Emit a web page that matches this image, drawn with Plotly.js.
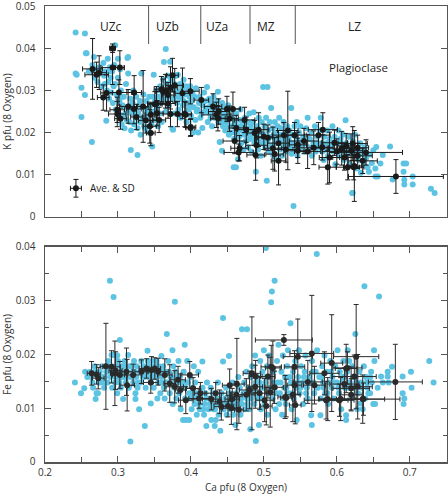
<!DOCTYPE html>
<html><head><meta charset="utf-8">
<script src="https://cdn.plot.ly/plotly-3.0.1.min.js"></script>
<style>html,body{margin:0;padding:0;background:#fff}#chart{width:448px;height:499px}</style>
</head><body><div id="chart"></div>
<script>
// ---- top panel: K vs Ca, individual analyses [Ca, K]
const kAnalyses = [
[0.242,0.0437],[0.2547,0.0435],[0.256,0.0388],[0.257,0.0388],[0.267,0.0379],[0.2434,0.0337],[0.242,0.034],[0.25,0.0306],[0.2547,0.0289],[0.25,0.0237],[0.2643,0.0178],[0.26,0.0345],[0.265,0.036],[0.268,0.033],[0.27,0.035],[0.272,0.032],[0.275,0.0355],[0.276,0.034],[0.278,0.031],[0.28,0.0365],[0.281,0.0335],[0.283,0.0345],[0.284,0.0228],[0.285,0.03],[0.286,0.0375],[0.287,0.032],[0.288,0.028],[0.289,0.0355],[0.29,0.033],[0.291,0.0295],[0.292,0.0345],[0.293,0.027],[0.294,0.031],[0.295,0.036],[0.2962,0.0407],[0.297,0.0255],[0.298,0.029],[0.3003,0.0281],[0.3,0.033],[0.301,0.0245],[0.302,0.0275],[0.3,0.0375],
[0.303,0.035],[0.304,0.03],[0.305,0.022],[0.306,0.0265],[0.307,0.024],[0.308,0.0285],[0.309,0.021],[0.31,0.026],[0.311,0.0315],[0.312,0.023],[0.313,0.0377],[0.314,0.034],[0.314,0.0379],[0.315,0.0255],[0.316,0.0225],[0.317,0.028],[0.318,0.0205],[0.3176,0.0159],[0.319,0.0245],[0.32,0.027],[0.321,0.03],[0.322,0.022],[0.323,0.0255],[0.324,0.0235],[0.325,0.0285],[0.3268,0.0147],[0.327,0.021],[0.328,0.0245],[0.329,0.0265],[0.33,0.0225],[0.331,0.0195],[0.332,0.034],[0.333,0.026],[0.334,0.0235],[0.335,0.029],[0.336,0.0215],[0.337,0.0209],[0.338,0.025],[0.339,0.0275],[0.34,0.023],[0.341,0.0255],[0.342,0.02],[0.343,0.0285],[0.344,0.0245],[0.345,0.0265],[0.347,0.0167],[0.349,0.0337],[0.346,0.022],
[0.348,0.0285],[0.35,0.025],[0.351,0.0275],[0.352,0.023],[0.353,0.03],[0.354,0.0265],[0.355,0.0215],[0.356,0.0285],[0.357,0.0245],[0.358,0.031],[0.359,0.027],[0.36,0.0225],[0.361,0.0295],[0.362,0.0325],[0.363,0.0367],[0.364,0.028],[0.3655,0.0398],[0.366,0.025],[0.367,0.0315],[0.368,0.0335],[0.369,0.029],[0.37,0.0265],[0.3715,0.0368],[0.372,0.0305],[0.373,0.0325],[0.3747,0.0209],[0.3755,0.0207],[0.376,0.028],[0.377,0.0315],[0.378,0.0245],[0.379,0.03],[0.38,0.0335],[0.381,0.027],[0.382,0.0337],[0.383,0.0255],[0.384,0.0295],[0.385,0.0315],[0.386,0.0235],[0.387,0.028],[0.388,0.0305],[0.389,0.0265],[0.39,0.0325],[0.391,0.0245],[0.392,0.029],[0.393,0.031],[0.394,0.0225],[0.395,0.027],[0.396,0.03],[0.397,0.0255],[0.398,0.0285],[0.399,0.031],[0.4,0.024],
[0.401,0.0275],[0.402,0.0295],[0.403,0.02],[0.404,0.026],[0.405,0.0285],[0.406,0.023],[0.407,0.0305],[0.408,0.025],[0.41,0.02],[0.411,0.027],[0.412,0.0285],[0.413,0.0235],[0.4157,0.0211],[0.416,0.0265],[0.418,0.0295],[0.419,0.025],[0.42,0.0275],[0.422,0.0308],[0.423,0.0225],[0.424,0.026],[0.425,0.028],[0.426,0.0245],[0.428,0.027],[0.429,0.0215],[0.43,0.0255],[0.431,0.0285],[0.432,0.0235],[0.434,0.0265],[0.435,0.0245],[0.436,0.0275],[0.437,0.0297],[0.438,0.0225],[0.4394,0.0178],[0.44,0.0255],[0.441,0.0235],[0.4426,0.0157],[0.443,0.027],[0.444,0.0215],[0.445,0.0245],[0.446,0.026],[0.447,0.0205],[0.448,0.0235],[0.449,0.025],
[0.45,0.0225],[0.451,0.0265],[0.452,0.0195],[0.453,0.024],[0.454,0.0215],[0.455,0.0255],[0.456,0.02],[0.457,0.0235],[0.4586,0.0118],[0.459,0.0185],[0.46,0.0225],[0.4617,0.0118],[0.462,0.0245],[0.463,0.0205],[0.4645,0.0137],[0.465,0.0215],[0.466,0.019],[0.467,0.023],[0.468,0.0255],[0.469,0.0175],[0.47,0.0205],[0.471,0.022],[0.472,0.016],[0.473,0.0195],[0.474,0.0235],[0.475,0.018],[0.476,0.021],[0.477,0.0225],[0.478,0.0165],[0.479,0.0195],[0.48,0.0245],[0.481,0.0185],[0.482,0.0215],[0.483,0.0155],[0.484,0.02],[0.485,0.0225],[0.486,0.0248],[0.487,0.0175],[0.488,0.0205],[0.489,0.0107],[0.49,0.019],[0.491,0.0215],[0.492,0.016],[0.493,0.0235],[0.494,0.0185],[0.495,0.02],[0.496,0.0145],[0.497,0.0225],[0.498,0.0175],[0.499,0.0308],[0.5,0.0195],
[0.501,0.0215],[0.502,0.0165],[0.503,0.0235],[0.504,0.0086],[0.505,0.0308],[0.505,0.018],[0.506,0.0205],[0.507,0.0155],[0.508,0.0225],[0.509,0.019],[0.51,0.0258],[0.511,0.017],[0.512,0.021],[0.513,0.0145],[0.514,0.0195],[0.515,0.0225],[0.516,0.0175],[0.517,0.02],[0.518,0.0135],[0.519,0.0215],[0.52,0.0185],[0.521,0.0235],[0.522,0.016],[0.523,0.0195],[0.524,0.021],[0.525,0.0145],[0.526,0.018],[0.527,0.0225],[0.528,0.017],[0.529,0.02],[0.53,0.0155],[0.531,0.019],[0.532,0.0215],[0.533,0.0165],[0.534,0.0185],[0.535,0.0205],[0.5375,0.0258],[0.538,0.015],[0.539,0.0195],[0.54,0.0175],[0.5406,0.0026],[0.542,0.0215],[0.543,0.016],[0.544,0.019],[0.545,0.0225],[0.546,0.0145],[0.547,0.018],[0.548,0.02],[0.549,0.0165],[0.55,0.0215],
[0.552,0.0175],[0.554,0.019],[0.556,0.0155],[0.558,0.021],[0.56,0.0235],[0.561,0.0165],[0.563,0.0185],[0.565,0.02],[0.566,0.0145],[0.568,0.0175],[0.57,0.0215],[0.571,0.0155],[0.573,0.019],[0.575,0.0165],[0.577,0.0205],[0.578,0.0235],[0.58,0.0175],[0.582,0.0135],[0.583,0.019],[0.585,0.016],[0.587,0.0205],[0.588,0.0145],[0.59,0.0185],[0.592,0.017],[0.594,0.0215],[0.595,0.0155],[0.597,0.019],[0.598,0.0125],[0.6,0.0175],[0.602,0.0205],[0.603,0.0145],[0.605,0.0185],[0.607,0.016],[0.608,0.0195],[0.61,0.0135],[0.612,0.0229],[0.613,0.0175],[0.615,0.015],[0.616,0.019],[0.618,0.0125],[0.62,0.0165],[0.621,0.0057],[0.622,0.018],[0.624,0.0145],[0.625,0.0195],[0.627,0.0115],[0.628,0.016],[0.63,0.0135],[0.632,0.0175],[0.633,0.0105],[0.635,0.015],[0.637,0.0125],[0.638,0.0165],[0.64,0.0138],[0.642,0.0118],[0.644,0.0107],[0.645,0.0148],[0.648,0.0128],[0.65,0.0158],
[0.653,0.0096],[0.654,0.0166],[0.656,0.0096],[0.6528,0.0115],[0.6597,0.0127],[0.663,0.0147],[0.673,0.0167],[0.6765,0.0089],[0.6915,0.0127],[0.695,0.0127],[0.6915,0.0107],[0.704,0.0096],[0.6925,0.0088],[0.6925,0.0077],[0.704,0.0077],[0.729,0.0067],[0.734,0.0057],[0.6218,0.0057],
[0.282,0.0315],[0.287,0.0345],[0.296,0.0315],[0.305,0.0285],[0.31,0.0245],[0.318,0.0265],[0.326,0.025],[0.33,0.0275],[0.338,0.0235],[0.353,0.0255],[0.36,0.0275],[0.366,0.0295],[0.371,0.0285],[0.375,0.0305],[0.382,0.0285],[0.39,0.0275],[0.398,0.0265],[0.409,0.0255],[0.415,0.0245],[0.421,0.0255],[0.427,0.0235],[0.433,0.0255],[0.44,0.0225],[0.447,0.0225],[0.452,0.0215],[0.458,0.0215],[0.464,0.0195],[0.47,0.0215],[0.476,0.0195],[0.482,0.0195],[0.488,0.0185],[0.494,0.0175],[0.5,0.0175],[0.506,0.0185],[0.511,0.0165],[0.516,0.0185],[0.522,0.0175],[0.528,0.0185],[0.533,0.0175],[0.537,0.0165],[0.543,0.0175],[0.55,0.0165],[0.556,0.0175],[0.562,0.0185],[0.569,0.0165],[0.574,0.0175],[0.58,0.0155],[0.586,0.0175],[0.591,0.0165],[0.596,0.0175],[0.601,0.0155],[0.606,0.0175],[0.611,0.0155],[0.617,0.0165],[0.623,0.0155],[0.629,0.0145],[0.634,0.0155],[0.639,0.0145]
];
// top panel averages: [Ca, K, Ca SD, K SD]
const kAverages = [
[0.2652,0.0351,0.0137,0.0072],[0.2707,0.0337,0.016,0.003],[0.2743,0.0342,0.01,0.004],[0.2926,0.04,0.004,0.001],[0.2926,0.0354,0.016,0.004],[0.3026,0.0354,0.006,0.004],[0.2844,0.0294,0.008,0.0043],[0.2798,0.0283,0.008,0.003],[0.3013,0.0295,0.018,0.003],[0.3222,0.0295,0.01,0.004],[0.299,0.0254,0.01,0.003],[0.299,0.0244,0.012,0.003],[0.3035,0.0233,0.008,0.0025],[0.314,0.0262,0.012,0.004],[0.3218,0.0256,0.01,0.0035],[0.3254,0.0237,0.008,0.003],[0.3345,0.0262,0.008,0.0085],[0.3382,0.0229,0.01,0.003],[0.345,0.0199,0.006,0.003],[0.3436,0.0215,0.009,0.004],[0.345,0.0242,0.008,0.003],[0.3528,0.0269,0.012,0.004],[0.3564,0.023,0.009,0.003],[0.3596,0.0303,0.01,0.003],[0.365,0.0298,0.012,0.004],[0.3687,0.0289,0.008,0.003],[0.372,0.0306,0.01,0.005],[0.3778,0.0312,0.012,0.004],[0.3747,0.0336,0.008,0.004],[0.3619,0.0297,0.01,0.003],[0.372,0.0244,0.01,0.003],[0.3815,0.0244,0.008,0.003],[0.3884,0.0293,0.01,0.006],[0.3915,0.0244,0.009,0.003],[0.3993,0.0298,0.012,0.003],[0.3997,0.0213,0.007,0.002],[0.4143,0.0277,0.01,0.003],[0.4303,0.0262,0.012,0.003],[0.4349,0.0242,0.02,0.003],[0.437,0.0234,0.01,0.003],[0.4381,0.025,0.014,0.003],[0.4494,0.0256,0.018,0.003],[0.4576,0.0256,0.01,0.004],[0.453,0.0233,0.012,0.003],[0.4622,0.0211,0.01,0.003],[0.4736,0.023,0.014,0.003],[0.4759,0.0207,0.012,0.003],[0.4873,0.0199,0.01,0.003],[0.46,0.018,0.016,0.003],[0.4654,0.0153,0.02,0.002],[0.4667,0.0163,0.012,0.003],[0.4887,0.0147,0.012,0.006],[0.3505,0.0267,0.01,0.003],[0.3537,0.0246,0.008,0.003],[0.3687,0.0269,0.01,0.0035],[0.3929,0.0242,0.008,0.003],[0.3993,0.0211,0.006,0.002],[0.4928,0.0207,0.014,0.004],[0.5055,0.0188,0.014,0.003],[0.5124,0.0163,0.012,0.005],[0.5147,0.0149,0.012,0.004],[0.5201,0.0133,0.01,0.0057],[0.5274,0.0194,0.016,0.003],[0.5328,0.0205,0.014,0.0093],[0.542,0.0194,0.014,0.003],[0.5465,0.0157,0.018,0.003],[0.5465,0.0171,0.012,0.003],[0.5684,0.0164,0.02,0.004],[0.5748,0.0194,0.016,0.003],[0.5808,0.0207,0.02,0.004],[0.5899,0.0141,0.014,0.006],[0.5876,0.0118,0.012,0.004],[0.5967,0.0176,0.018,0.003],[0.6067,0.0163,0.02,0.004],[0.6104,0.0141,0.016,0.003],[0.6218,0.0174,0.02,0.004],[0.6231,0.0118,0.014,0.003],[0.6128,0.0168,0.012,0.003],[0.6196,0.0157,0.016,0.004],[0.6286,0.0164,0.015,0.003],[0.6286,0.0145,0.02,0.003],[0.6355,0.0133,0.02,0.003],[0.624,0.0121,0.01,0.0084],[0.615,0.0118,0.016,0.003],[0.64,0.0153,0.05,0.003],[0.681,0.0096,0.065,0.004],
[0.5,0.019,0.012,0.003],[0.52,0.0175,0.015,0.003],[0.555,0.018,0.02,0.003],[0.56,0.0155,0.018,0.004],[0.58,0.0165,0.015,0.003],[0.6,0.0155,0.02,0.003],[0.53,0.016,0.018,0.003],[0.49,0.017,0.015,0.003]
];
// ---- bottom panel: Fe vs Ca, individual analyses [Ca, Fe]
const feAnalyses = [
[0.241,0.0148],[0.2493,0.0128],[0.2538,0.0137],[0.255,0.0168],[0.258,0.0158],[0.262,0.0168],[0.265,0.0148],[0.2694,0.0117],[0.2707,0.0128],[0.2725,0.0128],[0.268,0.0178],[0.272,0.0158],[0.275,0.0168],[0.277,0.0148],[0.279,0.0178],[0.281,0.0138],[0.282,0.0158],[0.284,0.0168],[0.286,0.0148],[0.287,0.0188],[0.289,0.0337],[0.29,0.0158],[0.2912,0.0199],[0.292,0.0138],[0.2935,0.0199],[0.294,0.0307],[0.295,0.0168],[0.296,0.0148],[0.298,0.0178],[0.299,0.0128],[0.3,0.0188],[0.3026,0.0227],[0.301,0.0158],
[0.303,0.0168],[0.304,0.0138],[0.306,0.0178],[0.3071,0.0117],[0.308,0.0158],[0.309,0.0188],[0.311,0.0148],[0.312,0.0168],[0.314,0.0199],[0.315,0.0138],[0.316,0.0178],[0.317,0.0038],[0.318,0.0158],[0.32,0.0168],[0.321,0.0148],[0.322,0.0188],[0.324,0.0128],[0.324,0.0117],[0.325,0.0158],[0.326,0.0178],[0.327,0.0138],[0.329,0.0098],[0.33,0.0168],[0.331,0.0148],[0.332,0.0188],[0.334,0.0158],[0.335,0.0178],[0.3368,0.0067],[0.338,0.0138],[0.339,0.0168],[0.3405,0.0207],[0.342,0.0158],[0.343,0.0178],[0.345,0.0109],[0.345,0.0148],[0.346,0.0188],[0.348,0.0168],[0.349,0.0138],[0.35,0.0178],[0.352,0.0158],[0.353,0.0188],[0.354,0.0118],[0.355,0.0148],[0.357,0.0168],[0.358,0.0128],[0.3596,0.0197],[0.36,0.0158],
[0.362,0.0178],[0.363,0.0138],[0.364,0.0118],[0.366,0.0168],[0.367,0.0238],[0.368,0.0148],[0.369,0.0188],[0.371,0.0128],[0.372,0.0158],[0.3747,0.0208],[0.375,0.0108],[0.376,0.0178],[0.377,0.0138],[0.378,0.0298],[0.379,0.0168],[0.38,0.0118],[0.381,0.0148],[0.383,0.0188],[0.384,0.0128],[0.385,0.0158],[0.386,0.0098],[0.388,0.0138],[0.3892,0.0078],[0.39,0.0168],[0.3915,0.0218],[0.392,0.0118],[0.3929,0.0078],[0.394,0.0148],[0.395,0.0188],[0.3976,0.0078],[0.398,0.0128],[0.399,0.0158],[0.401,0.0098],[0.402,0.0138],[0.404,0.0178],[0.405,0.0108],[0.406,0.0148],[0.408,0.0088],[0.409,0.0128],[0.41,0.0168],[0.412,0.0098],[0.413,0.0118],[0.4157,0.0187],[0.416,0.0138],[0.418,0.0088],[0.419,0.0108],[0.42,0.0128],
[0.4212,0.0067],[0.422,0.0148],[0.424,0.0098],[0.425,0.0118],[0.427,0.0138],[0.428,0.0078],[0.429,0.0108],[0.43,0.0128],[0.4326,0.0067],[0.433,0.0098],[0.434,0.0078],[0.435,0.0118],[0.437,0.0148],[0.438,0.0088],[0.4403,0.0058],[0.441,0.0108],[0.442,0.0128],[0.444,0.0187],[0.444,0.0268],[0.445,0.0098],[0.447,0.0118],[0.448,0.0138],[0.449,0.0088],[0.45,0.0108],[0.4522,0.0197],[0.453,0.0128],[0.454,0.0098],[0.456,0.0118],[0.457,0.0148],[0.458,0.0088],[0.459,0.0108],[0.4609,0.0069],[0.462,0.0128],[0.463,0.0098],[0.465,0.0158],[0.466,0.0118],[0.467,0.0138],[0.468,0.0088],[0.47,0.0247],[0.47,0.0108],[0.472,0.0128],[0.473,0.0148],[0.474,0.0098],[0.4768,0.0247],[0.476,0.0168],[0.477,0.0118],[0.479,0.0138],[0.48,0.0098],
[0.4814,0.0061],[0.482,0.0158],[0.483,0.0118],[0.484,0.0178],[0.486,0.0138],[0.487,0.0108],[0.488,0.0198],[0.489,0.0039],[0.49,0.0128],[0.491,0.0158],[0.4932,0.0069],[0.494,0.0148],[0.495,0.0188],[0.496,0.0098],[0.497,0.0118],[0.498,0.0168],[0.499,0.0138],[0.5,0.0208],[0.5027,0.0398],[0.501,0.0108],[0.502,0.0148],[0.504,0.0178],[0.505,0.0088],[0.506,0.0128],[0.507,0.0198],[0.508,0.0158],[0.51,0.0297],[0.511,0.0317],[0.512,0.0118],[0.513,0.0168],[0.5147,0.0337],[0.515,0.0138],[0.516,0.0098],[0.518,0.0188],[0.519,0.0148],[0.52,0.0218],[0.521,0.0108],[0.522,0.0128],[0.524,0.0168],[0.525,0.0088],[0.526,0.0198],[0.528,0.0138],[0.529,0.0158],[0.53,0.0108],[0.532,0.0178],[0.533,0.0208],[0.534,0.0128],[0.5365,0.0258],[0.537,0.0148],[0.538,0.0098],[0.54,0.0168],[0.541,0.0118],[0.543,0.0188],[0.544,0.0138],[0.545,0.0078],[0.547,0.0158],[0.548,0.0208],[0.549,0.0128],
[0.551,0.0178],[0.553,0.0148],[0.554,0.0108],[0.556,0.0168],[0.557,0.0198],[0.559,0.0138],[0.56,0.0118],[0.562,0.0158],[0.5648,0.0087],[0.5657,0.0069],[0.566,0.0188],[0.568,0.0148],[0.569,0.0128],[0.5725,0.0387],[0.571,0.0168],[0.573,0.0208],[0.574,0.0138],[0.5775,0.0087],[0.576,0.0158],[0.578,0.0118],[0.58,0.0178],[0.581,0.0148],[0.583,0.0198],[0.584,0.0128],[0.586,0.0168],[0.588,0.0108],[0.589,0.0148],[0.591,0.0188],[0.593,0.0138],[0.594,0.0158],[0.596,0.0118],[0.598,0.0178],[0.6,0.0148],[0.601,0.0208],[0.603,0.0128],[0.604,0.0168],[0.606,0.0098],[0.608,0.0158],[0.609,0.0188],[0.611,0.0138],[0.6127,0.0087],[0.6127,0.0078],[0.614,0.0168],[0.615,0.0208],[0.617,0.0188],[0.618,0.0148],[0.62,0.0118],[0.621,0.0178],[0.623,0.0138],[0.6254,0.0238],[0.626,0.0158],[0.628,0.0098],[0.629,0.0128],[0.631,0.0168],[0.6323,0.0109],[0.633,0.0148],[0.6355,0.0098],[0.6378,0.0327],[0.637,0.0178],[0.639,0.0118],[0.64,0.0158],[0.642,0.0138],[0.6433,0.0128],[0.6456,0.0128],[0.647,0.0168],[0.648,0.0148],[0.65,0.0108],
[0.651,0.0208],[0.6515,0.0188],[0.6524,0.0108],[0.656,0.0138],[0.6579,0.0308],[0.6606,0.0159],[0.663,0.0148],[0.6697,0.0168],[0.6697,0.0159],[0.671,0.0148],[0.6756,0.0177],[0.6902,0.0159],[0.6902,0.0128],[0.6925,0.0118],[0.6915,0.0108],[0.7016,0.0168],[0.7025,0.0138],[0.7267,0.0188],[0.7326,0.0148],
[0.263,0.0158],[0.266,0.0138],[0.269,0.0168],[0.274,0.0148],[0.278,0.0158],[0.283,0.0148],[0.285,0.0178],[0.288,0.0168],[0.291,0.0178],[0.297,0.0158],[0.299,0.0198],[0.302,0.0148],[0.305,0.0158],[0.307,0.0168],[0.31,0.0178],[0.313,0.0158],[0.319,0.0178],[0.323,0.0168],[0.328,0.0148],[0.333,0.0168],[0.336,0.0158],[0.341,0.0188],[0.344,0.0168],[0.347,0.0158],[0.351,0.0168],[0.356,0.0178],[0.359,0.0148],[0.361,0.0168],[0.365,0.0148],[0.37,0.0168],[0.374,0.0158],[0.378,0.0148],[0.382,0.0158],[0.387,0.0148],[0.391,0.0138],[0.396,0.0148],[0.4,0.0118],[0.403,0.0128],[0.407,0.0118],[0.411,0.0108],[0.414,0.0128],[0.417,0.0098],[0.421,0.0118],[0.426,0.0108],[0.431,0.0098],[0.436,0.0108],[0.439,0.0118],[0.443,0.0098],[0.446,0.0108],[0.451,0.0118],[0.455,0.0108],[0.46,0.0118],[0.464,0.0108],[0.469,0.0118],[0.475,0.0128],[0.478,0.0108],[0.485,0.0128],[0.489,0.0148],[0.492,0.0118],[0.497,0.0138],[0.503,0.0158],[0.509,0.0138],[0.514,0.0148],[0.517,0.0128],[0.523,0.0148],[0.527,0.0118],[0.531,0.0138],[0.535,0.0158],[0.539,0.0128],[0.546,0.0148],[0.55,0.0138],[0.555,0.0158],[0.558,0.0128],[0.563,0.0148],[0.567,0.0168],[0.572,0.0138],[0.579,0.0158],[0.582,0.0138],[0.587,0.0128],[0.592,0.0168],[0.597,0.0148],[0.602,0.0138],[0.607,0.0148],[0.61,0.0158],[0.616,0.0138],[0.622,0.0158],[0.627,0.0148],[0.634,0.0138],[0.641,0.0148],[0.646,0.0158]
];
// bottom panel averages: [Ca, Fe, Ca SD, Fe SD]
const feAverages = [
[0.2639,0.0165,0.006,0.0022],[0.2707,0.0163,0.005,0.0018],[0.273,0.0156,0.008,0.002],[0.2835,0.0178,0.008,0.008],[0.2912,0.0177,0.012,0.003],[0.2958,0.0165,0.006,0.006],[0.2967,0.017,0.009,0.0035],[0.3026,0.0162,0.01,0.0025],[0.3117,0.0168,0.008,0.0044],[0.3126,0.0143,0.01,0.0048],[0.3208,0.0162,0.012,0.002],[0.3322,0.0168,0.009,0.0022],[0.339,0.0174,0.01,0.0018],[0.346,0.0171,0.012,0.0025],[0.345,0.0148,0.01,0.002],[0.3505,0.0174,0.008,0.002],[0.355,0.0168,0.014,0.0025],[0.3642,0.0162,0.01,0.003],[0.371,0.0146,0.008,0.0035],[0.3778,0.014,0.012,0.003],[0.3824,0.0153,0.01,0.0025],[0.3856,0.0134,0.007,0.003],[0.3984,0.0162,0.012,0.0025],[0.393,0.0115,0.01,0.0025],[0.403,0.0137,0.009,0.002],[0.413,0.0128,0.008,0.002],[0.4111,0.0118,0.014,0.0018],[0.428,0.0117,0.012,0.002],[0.434,0.0128,0.015,0.002],[0.4394,0.0112,0.012,0.0022],[0.4417,0.0103,0.01,0.0025],[0.4508,0.0104,0.008,0.002],[0.4554,0.01,0.012,0.003],[0.463,0.0145,0.01,0.0085],[0.4567,0.0117,0.01,0.002],[0.4759,0.0125,0.012,0.003],[0.4804,0.0134,0.014,0.0035],[0.4836,0.0165,0.012,0.0105],[0.4882,0.014,0.01,0.004],[0.4887,0.0159,0.009,0.003],[0.4622,0.0125,0.008,0.0025],[0.4531,0.0143,0.01,0.003],[0.4658,0.0097,0.006,0.0025],[0.4942,0.0128,0.015,0.003],[0.501,0.0115,0.012,0.004],[0.5033,0.0104,0.008,0.0035],[0.5055,0.0159,0.01,0.004],[0.5087,0.013,0.006,0.0065],[0.5101,0.0177,0.014,0.004],[0.5123,0.0175,0.01,0.005],[0.5147,0.0139,0.012,0.003],[0.5274,0.0227,0.039,0.001],[0.5292,0.0121,0.01,0.004],[0.5306,0.0119,0.008,0.0035],[0.5397,0.0125,0.01,0.005],[0.542,0.0177,0.014,0.003],[0.542,0.0143,0.01,0.003],[0.543,0.0106,0.008,0.0035],[0.5465,0.0196,0.02,0.007],[0.5602,0.0149,0.02,0.004],[0.5657,0.0202,0.03,0.0108],[0.5693,0.0143,0.015,0.0035],[0.583,0.0165,0.02,0.004],[0.5853,0.0115,0.03,0.0035],[0.5875,0.0117,0.012,0.004],[0.593,0.0184,0.015,0.009],[0.6036,0.0115,0.02,0.003],[0.6053,0.0117,0.03,0.004],[0.6104,0.0145,0.02,0.003],[0.6128,0.0174,0.015,0.0045],[0.6145,0.0175,0.02,0.003],[0.6196,0.0137,0.025,0.004],[0.6196,0.0125,0.015,0.003],[0.624,0.0159,0.03,0.004],[0.6265,0.0196,0.031,0.0097],[0.6286,0.014,0.02,0.006],[0.6355,0.0117,0.03,0.0045],[0.6365,0.0117,0.05,0.003],[0.6802,0.0149,0.037,0.007]
];
// axis ticks
const kTicks = [0, 0.01, 0.02, 0.03, 0.04, 0.05];
const kTickText = ["0", "0.01", "0.02", "0.03", "0.04", "0.05"];
const feTicks = [0, 0.01, 0.02, 0.03, 0.04];
const feTickText = ["0", "0.01", "0.02", "0.03", "0.04"];
// zone boundaries (Ca) and labels
const zoneBounds = [0.342, 0.4135, 0.481, 0.543];
const zoneLabels = ["UZc","UZb","UZa","MZ","LZ"];
const zoneLabelCa = [0.29, 0.3673, 0.4355, 0.503, 0.6237];
// legend sample
const legendSample = {ca:0.2424, k:0.0068, caSD:0.0075, kSD:0.0021};

const BLUE = '#5cc3e3', BLACK = '#1a1a1a', AX = '#555';
const col = (a,i)=>a.map(p=>p[i]);
const errStyle = {type:'data', visible:true, color:BLACK, thickness:1, width:2.5};

const traces = [
  {x:col(kAnalyses,0), y:col(kAnalyses,1), xaxis:'x', yaxis:'y', type:'scatter', mode:'markers',
   marker:{color:BLUE, size:6}, hoverinfo:'skip'},
  {x:col(kAverages,0), y:col(kAverages,1), xaxis:'x', yaxis:'y', type:'scatter', mode:'markers',
   marker:{color:BLACK, size:6},
   error_x:Object.assign({array:col(kAverages,2)}, errStyle),
   error_y:Object.assign({array:col(kAverages,3)}, errStyle), hoverinfo:'skip'},
  {x:col(feAnalyses,0), y:col(feAnalyses,1), xaxis:'x2', yaxis:'y2', type:'scatter', mode:'markers',
   marker:{color:BLUE, size:6}, hoverinfo:'skip'},
  {x:col(feAverages,0), y:col(feAverages,1), xaxis:'x2', yaxis:'y2', type:'scatter', mode:'markers',
   marker:{color:'#2a2a2a', size:6},
   error_x:Object.assign({array:col(feAverages,2)}, errStyle, {color:'#2a2a2a'}),
   error_y:Object.assign({array:col(feAverages,3)}, errStyle, {color:'#2a2a2a'}), hoverinfo:'skip'},
  {x:[legendSample.ca], y:[legendSample.k], xaxis:'x', yaxis:'y', type:'scatter', mode:'markers',
   marker:{color:BLACK, size:6},
   error_x:Object.assign({array:[legendSample.caSD]}, errStyle),
   error_y:Object.assign({array:[legendSample.kSD]}, errStyle), hoverinfo:'skip'}
];

const font = {family:'"Open Sans", sans-serif', color:'#333'};
const baseAxis = {showgrid:false, zeroline:false, showline:true, linecolor:AX, linewidth:1.5,
  ticks:'inside', tickcolor:AX, tickwidth:1, ticklabeloverflow:'allow',
  tickfont:{family:font.family, size:10, color:'#333'}};

const shapes = zoneBounds.map(b=>({type:'line', xref:'x', yref:'y', x0:b, x1:b, y0:0.041, y1:0.05,
  line:{color:AX, width:1}}));

const annotations = zoneLabels.map((t,i)=>({text:t, x:zoneLabelCa[i], y:0.0451, xref:'x', yref:'y',
  showarrow:false, font:{family:font.family, size:12, color:'#222'}}));
annotations.push({text:'Plagioclase', x:0.63, y:0.0355, xref:'x', yref:'y', showarrow:false,
  font:{family:font.family, size:11.5, color:'#222'}});
annotations.push({text:'Ave. & SD', x:0.259, y:legendSample.k, xref:'x', yref:'y', xanchor:'left',
  showarrow:false, font:{family:font.family, size:10, color:'#222'}});

const layout = {
  width:448, height:499, margin:{l:45, r:1, t:6, b:37},
  paper_bgcolor:'#fff', plot_bgcolor:'#fff', showlegend:false, font:font,
  xaxis: Object.assign({}, baseAxis, {anchor:'y', domain:[0,1], range:[0.2,0.751], tick0:0.2, dtick:0.05,
    ticklen:6, showticklabels:false, mirror:true}),
  yaxis: Object.assign({}, baseAxis, {anchor:'x', domain:[0.5373,1], range:[0,0.05],
    tickmode:'array', tickvals:kTicks, ticktext:kTickText,
    ticklen:6, mirror:'ticks', ticklabelstandoff:6,
    title:{text:'K pfu (8 Oxygen)', font:{family:font.family, size:10, color:'#333'}, standoff:3}}),
  xaxis2: Object.assign({}, baseAxis, {anchor:'y2', domain:[0,1], range:[0.2,0.751], tick0:0.2, dtick:0.1,
    ticklen:6, mirror:'ticks', minor:{dtick:0.05, tick0:0.2, ticks:'inside', ticklen:5, tickcolor:AX, showgrid:false},
    title:{text:'Ca pfu (8 Oxygen)', font:{family:font.family, size:10, color:'#333'}, standoff:6}}),
  yaxis2: Object.assign({}, baseAxis, {anchor:'x2', domain:[0,0.4715], range:[0,0.04],
    tickmode:'array', tickvals:feTicks, ticktext:feTickText,
    ticklen:6, mirror:'ticks', ticklabelstandoff:6,
    minor:{tickmode:'linear', tick0:0, dtick:0.005, ticks:'inside', ticklen:4, tickcolor:AX, showgrid:false},
    title:{text:'Fe pfu (8 Oxygen)', font:{family:font.family, size:10, color:'#333'}, standoff:3}}),
  shapes:shapes, annotations:annotations
};

Plotly.newPlot('chart', traces, layout, {staticPlot:true, displayModeBar:false});
</script></body></html>
